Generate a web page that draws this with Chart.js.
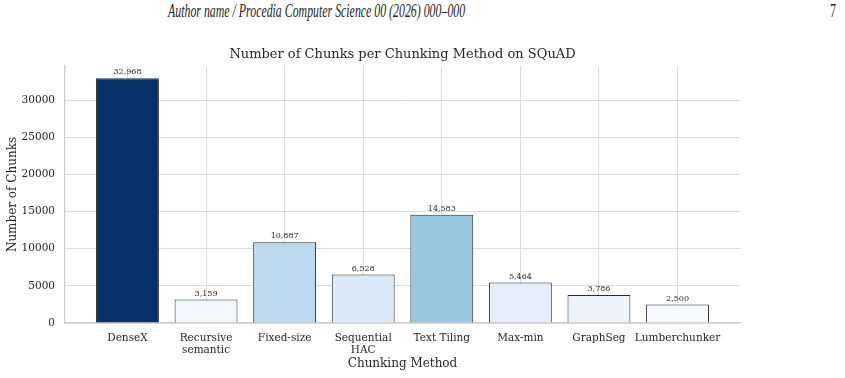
<!DOCTYPE html>
<html lang="en">
<head>
    <meta charset="UTF-8">
    <title>Number of Chunks per Chunking Method on SQuAD</title>
    <script src="https://cdn.jsdelivr.net/npm/chart.js"></script>
    <style>
        html, body {
            margin: 0;
            padding: 0;
            background: #ffffff;
        }
        .page {
            position: relative;
            width: 845px;
            height: 378px;
            overflow: hidden;
        }
        .header {
            position: absolute;
            top: 1px;
            font-family: "Liberation Serif", "Times New Roman", serif;
            font-style: italic;
            font-size: 18px;
            color: #262626;
            white-space: nowrap;
            transform-origin: left top;
        }
        #runningHead { left: 168px; }
        #pageNum { left: 830px; font-style: normal; }
        #chartBox {
            position: absolute;
            left: 0;
            top: 0;
            width: 845px;
            height: 378px;
        }
    </style>
</head>
<body>
<div class="page">
    <div id="runningHead" class="header">Author name / Procedia Computer Science 00 (2026) 000–000</div>
    <div id="pageNum" class="header">7</div>
    <div id="chartBox"><canvas id="chunksChart" width="845" height="378"></canvas></div>
</div>

<script>
    // data
    const methods = [
        'DenseX',
        ['Recursive', 'semantic'],
        'Fixed-size',
        ['Sequential', 'HAC'],
        'Text Tiling',
        'Max-min',
        'GraphSeg',
        'Lumberchunker'
    ];
    const chunkCounts = [32968, 3159, 10887, 6528, 14583, 5464, 3786, 2500];
    const yTickValues = [0, 5000, 10000, 15000, 20000, 25000, 30000];

    // Blues colormap, scaled by count
    const barColors = ['#08306b', '#f2f7fd', '#bdd7ec', '#dce9f6', '#97c6df', '#e3eef9', '#edf4fc', '#f7fbff'];

    const chartTitle = 'Number of Chunks per Chunking Method on SQuAD';

    // squeeze the running head to the width used in the reference
    const head = document.getElementById('runningHead');
    const squeeze = 297 / head.offsetWidth;
    head.style.transform = `scaleX(${squeeze})`;
    document.getElementById('pageNum').style.transform = `scaleX(${squeeze})`;

    const SERIF = "'DejaVu Serif', serif";

    // title centred over the plot area, like matplotlib does
    const plotTitle = {
        id: 'plotTitle',
        afterDraw(chart) {
            const { ctx, chartArea } = chart;
            ctx.save();
            ctx.font = `13px ${SERIF}`;
            ctx.fillStyle = '#262626';
            ctx.textAlign = 'center';
            ctx.textBaseline = 'middle';
            ctx.fillText(chartTitle, (chartArea.left + chartArea.right) / 2, 55);
            ctx.restore();
        }
    };

    const valueLabels = {
        id: 'valueLabels',
        afterDatasetsDraw(chart) {
            const ctx = chart.ctx;
            const meta = chart.getDatasetMeta(0);
            ctx.save();
            ctx.font = `8px ${SERIF}`;
            ctx.fillStyle = '#262626';
            ctx.textAlign = 'center';
            ctx.textBaseline = 'bottom';
            meta.data.forEach((bar, i) => {
                ctx.fillText(chunkCounts[i].toLocaleString('en-US'), bar.x, bar.y - 2);
            });
            ctx.restore();
        }
    };

    const ctx = document.getElementById('chunksChart').getContext('2d');
    new Chart(ctx, {
        type: 'bar',
        data: {
            datasets: [{
                data: chunkCounts.map((v, i) => ({ x: i, y: v })),
                backgroundColor: barColors,
                borderColor: '#2b2b2b',
                borderWidth: 1,
                barPercentage: 0.8,
                categoryPercentage: 1.0
            }]
        },
        options: {
            responsive: false,
            animation: false,
            layout: {
                padding: { top: 66, left: 0, right: 105, bottom: 0 }
            },
            plugins: {
                legend: { display: false },
                tooltip: { enabled: false },
                title: { display: false }
            },
            scales: {
                x: {
                    type: 'linear',
                    offset: false,
                    min: -0.795,
                    max: 7.795,
                    afterBuildTicks: (scale) => {
                        scale.ticks = methods.map((m, i) => ({ value: i }));
                    },
                    afterFit: (scale) => { scale.height = 55; },
                    ticks: {
                        callback: (value) => methods[value],
                        color: '#262626',
                        font: { family: SERIF, size: 10.5 },
                        padding: 8.5,
                        maxRotation: 0,
                        autoSkip: false
                    },
                    grid: { color: '#dcdcdc', lineWidth: 1, drawTicks: false, offset: false },
                    border: { color: '#cccccc', width: 1.25 },
                    title: {
                        display: true,
                        text: 'Chunking Method',
                        color: '#262626',
                        font: { family: SERIF, size: 12 },
                        padding: { top: 0, bottom: 6.5 }
                    }
                },
                y: {
                    type: 'linear',
                    min: 0,
                    max: 34616,
                    afterBuildTicks: (scale) => {
                        scale.ticks = yTickValues.map(v => ({ value: v }));
                    },
                    afterFit: (scale) => { scale.width = 65; },
                    ticks: {
                        callback: (value) => String(value),
                        color: '#262626',
                        font: { family: SERIF, size: 10.5 },
                        padding: 10
                    },
                    grid: { color: '#dcdcdc', lineWidth: 1, drawTicks: false },
                    border: { color: '#cccccc', width: 1.25 },
                    title: {
                        display: true,
                        text: 'Number of Chunks',
                        color: '#262626',
                        font: { family: SERIF, size: 12 },
                        padding: { top: 6, bottom: 0 }
                    }
                }
            }
        },
        plugins: [valueLabels, plotTitle]
    });
</script>
</body>
</html>
